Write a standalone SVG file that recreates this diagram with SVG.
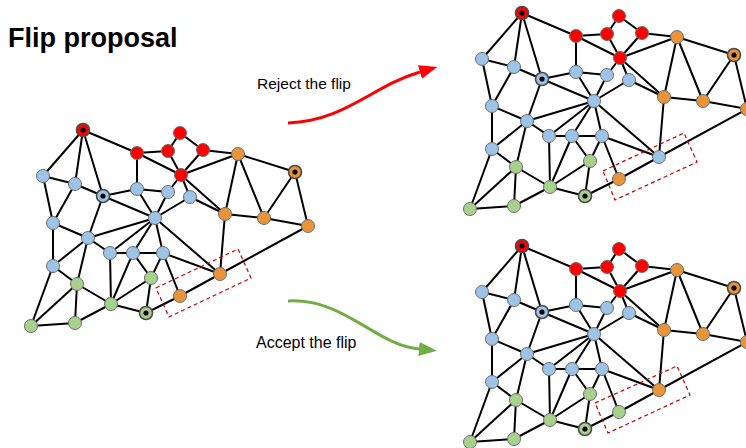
<svg xmlns="http://www.w3.org/2000/svg" xmlns:xlink="http://www.w3.org/1999/xlink" width="746" height="448" viewBox="0 0 746 448">
<style>
.e{stroke:#000;stroke-width:2;fill:none}
circle{stroke:#6e6e6e;stroke-width:1}
.r{fill:#FF0000}.b{fill:#9DC3E6}.g{fill:#A9D18E}.o{fill:#E9943A}
.d{stroke:#4a4a4a;stroke-width:1.6}
.c{fill:#000;stroke:none}
.box{fill:none;stroke:#C00000;stroke-width:1.2;stroke-dasharray:4 3}
text{font-family:"Liberation Sans",Arial,sans-serif;fill:#000}
</style>
<defs>
<marker id="ahr" markerUnits="userSpaceOnUse" markerWidth="20" markerHeight="16" refX="0" refY="7" orient="auto"><path d="M0,0 L18,7 L0,14 z" fill="#FF0000"/></marker>
<marker id="ahg" markerUnits="userSpaceOnUse" markerWidth="20" markerHeight="16" refX="0" refY="7" orient="auto"><path d="M0,0 L18,7 L0,14 z" fill="#70AD47"/></marker>
</defs>
<text x="8" y="47" font-size="27" font-weight="bold">Flip proposal</text>
<g id="labels">
<text x="257" y="89" font-size="15.5">Reject the flip</text>
<text x="256" y="348" font-size="16">Accept the flip</text>
</g>
<g id="arrows">
<path d="M288,123 C345,121 372,86 420,72" stroke="#FF0000" stroke-width="3" fill="none" marker-end="url(#ahr)"/>
<path d="M288,301 C345,298 375,345 419,349" stroke="#70AD47" stroke-width="3" fill="none" marker-end="url(#ahg)"/>
</g>

<g id="graph-a">
<g id="a-connectors">
<line class="e" x1="83" y1="130" x2="43" y2="176"/><line class="e" x1="83" y1="130" x2="75" y2="184"/><line class="e" x1="83" y1="130" x2="103" y2="196"/><line class="e" x1="83" y1="130" x2="137" y2="153"/>
<line class="e" x1="137" y1="153" x2="168" y2="151"/><line class="e" x1="137" y1="153" x2="181" y2="175"/><line class="e" x1="137" y1="153" x2="137" y2="189"/>
<line class="e" x1="168" y1="151" x2="180" y2="133"/><line class="e" x1="168" y1="151" x2="181" y2="175"/>
<line class="e" x1="180" y1="133" x2="203" y2="150"/>
<line class="e" x1="203" y1="150" x2="181" y2="175"/><line class="e" x1="203" y1="150" x2="238" y2="154"/>
<line class="e" x1="181" y1="175" x2="238" y2="154"/><line class="e" x1="181" y1="175" x2="168" y2="192"/><line class="e" x1="181" y1="175" x2="190" y2="197"/><line class="e" x1="181" y1="175" x2="225" y2="214"/>
<line class="e" x1="43" y1="176" x2="75" y2="184"/><line class="e" x1="43" y1="176" x2="53" y2="223"/>
<line class="e" x1="75" y1="184" x2="103" y2="196"/><line class="e" x1="75" y1="184" x2="53" y2="223"/>
<line class="e" x1="103" y1="196" x2="137" y2="189"/><line class="e" x1="103" y1="196" x2="155" y2="218"/><line class="e" x1="103" y1="196" x2="88" y2="238"/>
<line class="e" x1="137" y1="189" x2="168" y2="192"/><line class="e" x1="137" y1="189" x2="155" y2="218"/>
<line class="e" x1="168" y1="192" x2="155" y2="218"/>
<line class="e" x1="190" y1="197" x2="155" y2="218"/><line class="e" x1="190" y1="197" x2="225" y2="214"/>
<line class="e" x1="53" y1="223" x2="88" y2="238"/><line class="e" x1="53" y1="223" x2="53" y2="266"/>
<line class="e" x1="88" y1="238" x2="155" y2="218"/><line class="e" x1="88" y1="238" x2="110" y2="253"/><line class="e" x1="88" y1="238" x2="53" y2="266"/><line class="e" x1="88" y1="238" x2="77" y2="284"/>
<line class="e" x1="110" y1="253" x2="133" y2="253"/><line class="e" x1="110" y1="253" x2="155" y2="218"/><line class="e" x1="110" y1="253" x2="111" y2="304"/>
<line class="e" x1="133" y1="253" x2="163" y2="253"/><line class="e" x1="133" y1="253" x2="155" y2="218"/><line class="e" x1="133" y1="253" x2="111" y2="304"/><line class="e" x1="133" y1="253" x2="151" y2="278"/>
<line class="e" x1="163" y1="253" x2="155" y2="218"/><line class="e" x1="163" y1="253" x2="151" y2="278"/><line class="e" x1="163" y1="253" x2="180" y2="296"/><line class="e" x1="163" y1="253" x2="220" y2="274"/>
<line class="e" x1="155" y1="218" x2="220" y2="274"/>
<line class="e" x1="53" y1="266" x2="77" y2="284"/><line class="e" x1="53" y1="266" x2="31" y2="326"/>
<line class="e" x1="77" y1="284" x2="111" y2="304"/><line class="e" x1="77" y1="284" x2="31" y2="326"/><line class="e" x1="77" y1="284" x2="75" y2="323"/>
<line class="e" x1="31" y1="326" x2="75" y2="323"/><line class="e" x1="75" y1="323" x2="111" y2="304"/>
<line class="e" x1="111" y1="304" x2="151" y2="278"/><line class="e" x1="111" y1="304" x2="146" y2="313"/>
<line class="e" x1="151" y1="278" x2="146" y2="313"/><line class="e" x1="146" y1="313" x2="180" y2="296"/>
<line class="e" x1="180" y1="296" x2="220" y2="274"/><line class="e" x1="220" y1="274" x2="225" y2="214"/><line class="e" x1="220" y1="274" x2="308" y2="226"/>
<line class="e" x1="238" y1="154" x2="225" y2="214"/><line class="e" x1="238" y1="154" x2="264" y2="218"/><line class="e" x1="238" y1="154" x2="295" y2="172"/>
<line class="e" x1="295" y1="172" x2="264" y2="218"/><line class="e" x1="295" y1="172" x2="308" y2="226"/>
<line class="e" x1="225" y1="214" x2="264" y2="218"/><line class="e" x1="264" y1="218" x2="308" y2="226"/>
</g>
<polygon class="box" points="156,288 238,249 251,278 169,317"/>
<g id="a-R0"><circle class="r d" cx="83" cy="130" r="6.5"/><circle class="c" cx="83" cy="130" r="2.6"/></g>
<g id="a-R1"><circle class="r" cx="137" cy="153" r="6.5"/></g>
<g id="a-R2"><circle class="r" cx="168" cy="151" r="6.5"/></g>
<g id="a-R3"><circle class="r" cx="180" cy="133" r="6.5"/></g>
<g id="a-R4"><circle class="r" cx="203" cy="150" r="6.5"/></g>
<g id="a-R5"><circle class="r" cx="181" cy="175" r="6.5"/></g>
<g id="a-B1"><circle class="b" cx="43" cy="176" r="6.5"/></g>
<g id="a-B2"><circle class="b" cx="75" cy="184" r="6.5"/></g>
<g id="a-B3"><circle class="b d" cx="103" cy="196" r="6.5"/><circle class="c" cx="103" cy="196" r="2.6"/></g>
<g id="a-B4"><circle class="b" cx="137" cy="189" r="6.5"/></g>
<g id="a-B5"><circle class="b" cx="168" cy="192" r="6.5"/></g>
<g id="a-B6"><circle class="b" cx="190" cy="197" r="6.5"/></g>
<g id="a-H"><circle class="b" cx="155" cy="218" r="6.5"/></g>
<g id="a-B7"><circle class="b" cx="53" cy="223" r="6.5"/></g>
<g id="a-B8"><circle class="b" cx="88" cy="238" r="6.5"/></g>
<g id="a-B9"><circle class="b" cx="110" cy="253" r="6.5"/></g>
<g id="a-B10"><circle class="b" cx="133" cy="253" r="6.5"/></g>
<g id="a-B11"><circle class="b" cx="163" cy="253" r="6.5"/></g>
<g id="a-B12"><circle class="b" cx="53" cy="266" r="6.5"/></g>
<g id="a-G1"><circle class="g" cx="77" cy="284" r="6.5"/></g>
<g id="a-G2"><circle class="g" cx="151" cy="278" r="6.5"/></g>
<g id="a-G3"><circle class="g" cx="111" cy="304" r="6.5"/></g>
<g id="a-G4"><circle class="g d" cx="146" cy="313" r="6.5"/><circle class="c" cx="146" cy="313" r="2.6"/></g>
<g id="a-G5"><circle class="g" cx="31" cy="326" r="6.5"/></g>
<g id="a-G6"><circle class="g" cx="75" cy="323" r="6.5"/></g>
<g id="a-O1"><circle class="o" cx="238" cy="154" r="6.5"/></g>
<g id="a-O2"><circle class="o d" cx="295" cy="172" r="6.5"/><circle class="c" cx="295" cy="172" r="2.6"/></g>
<g id="a-O3"><circle class="o" cx="225" cy="214" r="6.5"/></g>
<g id="a-O4"><circle class="o" cx="264" cy="218" r="6.5"/></g>
<g id="a-O5"><circle class="o" cx="308" cy="226" r="6.5"/></g>
<g id="a-O6"><circle class="o" cx="180" cy="296" r="6.5"/></g>
<g id="a-O7"><circle class="o" cx="220" cy="274" r="6.5"/></g>
</g>

<g id="graph-reject" transform="translate(439,-117)">
<g id="b-connectors">
<line class="e" x1="83" y1="130" x2="43" y2="176"/><line class="e" x1="83" y1="130" x2="75" y2="184"/><line class="e" x1="83" y1="130" x2="103" y2="196"/><line class="e" x1="83" y1="130" x2="137" y2="153"/>
<line class="e" x1="137" y1="153" x2="168" y2="151"/><line class="e" x1="137" y1="153" x2="181" y2="175"/><line class="e" x1="137" y1="153" x2="137" y2="189"/>
<line class="e" x1="168" y1="151" x2="180" y2="133"/><line class="e" x1="168" y1="151" x2="181" y2="175"/>
<line class="e" x1="180" y1="133" x2="203" y2="150"/>
<line class="e" x1="203" y1="150" x2="181" y2="175"/><line class="e" x1="203" y1="150" x2="238" y2="154"/>
<line class="e" x1="181" y1="175" x2="238" y2="154"/><line class="e" x1="181" y1="175" x2="168" y2="192"/><line class="e" x1="181" y1="175" x2="190" y2="197"/><line class="e" x1="181" y1="175" x2="225" y2="214"/>
<line class="e" x1="43" y1="176" x2="75" y2="184"/><line class="e" x1="43" y1="176" x2="53" y2="223"/>
<line class="e" x1="75" y1="184" x2="103" y2="196"/><line class="e" x1="75" y1="184" x2="53" y2="223"/>
<line class="e" x1="103" y1="196" x2="137" y2="189"/><line class="e" x1="103" y1="196" x2="155" y2="218"/><line class="e" x1="103" y1="196" x2="88" y2="238"/>
<line class="e" x1="137" y1="189" x2="168" y2="192"/><line class="e" x1="137" y1="189" x2="155" y2="218"/>
<line class="e" x1="168" y1="192" x2="155" y2="218"/>
<line class="e" x1="190" y1="197" x2="155" y2="218"/><line class="e" x1="190" y1="197" x2="225" y2="214"/>
<line class="e" x1="53" y1="223" x2="88" y2="238"/><line class="e" x1="53" y1="223" x2="53" y2="266"/>
<line class="e" x1="88" y1="238" x2="155" y2="218"/><line class="e" x1="88" y1="238" x2="110" y2="253"/><line class="e" x1="88" y1="238" x2="53" y2="266"/><line class="e" x1="88" y1="238" x2="77" y2="284"/>
<line class="e" x1="110" y1="253" x2="133" y2="253"/><line class="e" x1="110" y1="253" x2="155" y2="218"/><line class="e" x1="110" y1="253" x2="111" y2="304"/>
<line class="e" x1="133" y1="253" x2="163" y2="253"/><line class="e" x1="133" y1="253" x2="155" y2="218"/><line class="e" x1="133" y1="253" x2="111" y2="304"/><line class="e" x1="133" y1="253" x2="151" y2="278"/>
<line class="e" x1="163" y1="253" x2="155" y2="218"/><line class="e" x1="163" y1="253" x2="151" y2="278"/><line class="e" x1="163" y1="253" x2="180" y2="296"/><line class="e" x1="163" y1="253" x2="220" y2="274"/>
<line class="e" x1="155" y1="218" x2="220" y2="274"/>
<line class="e" x1="53" y1="266" x2="77" y2="284"/><line class="e" x1="53" y1="266" x2="31" y2="326"/>
<line class="e" x1="77" y1="284" x2="111" y2="304"/><line class="e" x1="77" y1="284" x2="31" y2="326"/><line class="e" x1="77" y1="284" x2="75" y2="323"/>
<line class="e" x1="31" y1="326" x2="75" y2="323"/><line class="e" x1="75" y1="323" x2="111" y2="304"/>
<line class="e" x1="111" y1="304" x2="151" y2="278"/><line class="e" x1="111" y1="304" x2="146" y2="313"/>
<line class="e" x1="151" y1="278" x2="146" y2="313"/><line class="e" x1="146" y1="313" x2="180" y2="296"/>
<line class="e" x1="180" y1="296" x2="220" y2="274"/><line class="e" x1="220" y1="274" x2="225" y2="214"/><line class="e" x1="220" y1="274" x2="308" y2="226"/>
<line class="e" x1="238" y1="154" x2="225" y2="214"/><line class="e" x1="238" y1="154" x2="264" y2="218"/><line class="e" x1="238" y1="154" x2="295" y2="172"/>
<line class="e" x1="295" y1="172" x2="264" y2="218"/><line class="e" x1="295" y1="172" x2="308" y2="226"/>
<line class="e" x1="225" y1="214" x2="264" y2="218"/><line class="e" x1="264" y1="218" x2="308" y2="226"/>
</g>
<polygon class="box" points="164,288 245,250 258,279 176,317"/>
<g id="b-R0"><circle class="r d" cx="83" cy="130" r="6.5"/><circle class="c" cx="83" cy="130" r="2.6"/></g>
<g id="b-R1"><circle class="r" cx="137" cy="153" r="6.5"/></g>
<g id="b-R2"><circle class="r" cx="168" cy="151" r="6.5"/></g>
<g id="b-R3"><circle class="r" cx="180" cy="133" r="6.5"/></g>
<g id="b-R4"><circle class="r" cx="203" cy="150" r="6.5"/></g>
<g id="b-R5"><circle class="r" cx="181" cy="175" r="6.5"/></g>
<g id="b-B1"><circle class="b" cx="43" cy="176" r="6.5"/></g>
<g id="b-B2"><circle class="b" cx="75" cy="184" r="6.5"/></g>
<g id="b-B3"><circle class="b d" cx="103" cy="196" r="6.5"/><circle class="c" cx="103" cy="196" r="2.6"/></g>
<g id="b-B4"><circle class="b" cx="137" cy="189" r="6.5"/></g>
<g id="b-B5"><circle class="b" cx="168" cy="192" r="6.5"/></g>
<g id="b-B6"><circle class="b" cx="190" cy="197" r="6.5"/></g>
<g id="b-H"><circle class="b" cx="155" cy="218" r="6.5"/></g>
<g id="b-B7"><circle class="b" cx="53" cy="223" r="6.5"/></g>
<g id="b-B8"><circle class="b" cx="88" cy="238" r="6.5"/></g>
<g id="b-B9"><circle class="b" cx="110" cy="253" r="6.5"/></g>
<g id="b-B10"><circle class="b" cx="133" cy="253" r="6.5"/></g>
<g id="b-B11"><circle class="b" cx="163" cy="253" r="6.5"/></g>
<g id="b-B12"><circle class="b" cx="53" cy="266" r="6.5"/></g>
<g id="b-G1"><circle class="g" cx="77" cy="284" r="6.5"/></g>
<g id="b-G2"><circle class="g" cx="151" cy="278" r="6.5"/></g>
<g id="b-G3"><circle class="g" cx="111" cy="304" r="6.5"/></g>
<g id="b-G4"><circle class="g d" cx="146" cy="313" r="6.5"/><circle class="c" cx="146" cy="313" r="2.6"/></g>
<g id="b-G5"><circle class="g" cx="31" cy="326" r="6.5"/></g>
<g id="b-G6"><circle class="g" cx="75" cy="323" r="6.5"/></g>
<g id="b-O1"><circle class="o" cx="238" cy="154" r="6.5"/></g>
<g id="b-O2"><circle class="o d" cx="295" cy="172" r="6.5"/><circle class="c" cx="295" cy="172" r="2.6"/></g>
<g id="b-O3"><circle class="o" cx="225" cy="214" r="6.5"/></g>
<g id="b-O4"><circle class="o" cx="264" cy="218" r="6.5"/></g>
<g id="b-O5"><circle class="o" cx="308" cy="226" r="6.5"/></g>
<g id="b-O6"><circle class="o" cx="180" cy="296" r="6.5"/></g>
<g id="b-O7"><circle class="b" cx="220" cy="274" r="6.5"/></g>
</g>

<g id="graph-accept" transform="translate(439,116)">
<g id="c-connectors">
<line class="e" x1="83" y1="130" x2="43" y2="176"/><line class="e" x1="83" y1="130" x2="75" y2="184"/><line class="e" x1="83" y1="130" x2="103" y2="196"/><line class="e" x1="83" y1="130" x2="137" y2="153"/>
<line class="e" x1="137" y1="153" x2="168" y2="151"/><line class="e" x1="137" y1="153" x2="181" y2="175"/><line class="e" x1="137" y1="153" x2="137" y2="189"/>
<line class="e" x1="168" y1="151" x2="180" y2="133"/><line class="e" x1="168" y1="151" x2="181" y2="175"/>
<line class="e" x1="180" y1="133" x2="203" y2="150"/>
<line class="e" x1="203" y1="150" x2="181" y2="175"/><line class="e" x1="203" y1="150" x2="238" y2="154"/>
<line class="e" x1="181" y1="175" x2="238" y2="154"/><line class="e" x1="181" y1="175" x2="168" y2="192"/><line class="e" x1="181" y1="175" x2="190" y2="197"/><line class="e" x1="181" y1="175" x2="225" y2="214"/>
<line class="e" x1="43" y1="176" x2="75" y2="184"/><line class="e" x1="43" y1="176" x2="53" y2="223"/>
<line class="e" x1="75" y1="184" x2="103" y2="196"/><line class="e" x1="75" y1="184" x2="53" y2="223"/>
<line class="e" x1="103" y1="196" x2="137" y2="189"/><line class="e" x1="103" y1="196" x2="155" y2="218"/><line class="e" x1="103" y1="196" x2="88" y2="238"/>
<line class="e" x1="137" y1="189" x2="168" y2="192"/><line class="e" x1="137" y1="189" x2="155" y2="218"/>
<line class="e" x1="168" y1="192" x2="155" y2="218"/>
<line class="e" x1="190" y1="197" x2="155" y2="218"/><line class="e" x1="190" y1="197" x2="225" y2="214"/>
<line class="e" x1="53" y1="223" x2="88" y2="238"/><line class="e" x1="53" y1="223" x2="53" y2="266"/>
<line class="e" x1="88" y1="238" x2="155" y2="218"/><line class="e" x1="88" y1="238" x2="110" y2="253"/><line class="e" x1="88" y1="238" x2="53" y2="266"/><line class="e" x1="88" y1="238" x2="77" y2="284"/>
<line class="e" x1="110" y1="253" x2="133" y2="253"/><line class="e" x1="110" y1="253" x2="155" y2="218"/><line class="e" x1="110" y1="253" x2="111" y2="304"/>
<line class="e" x1="133" y1="253" x2="163" y2="253"/><line class="e" x1="133" y1="253" x2="155" y2="218"/><line class="e" x1="133" y1="253" x2="111" y2="304"/><line class="e" x1="133" y1="253" x2="151" y2="278"/>
<line class="e" x1="163" y1="253" x2="155" y2="218"/><line class="e" x1="163" y1="253" x2="151" y2="278"/><line class="e" x1="163" y1="253" x2="180" y2="296"/><line class="e" x1="163" y1="253" x2="220" y2="274"/>
<line class="e" x1="155" y1="218" x2="220" y2="274"/>
<line class="e" x1="53" y1="266" x2="77" y2="284"/><line class="e" x1="53" y1="266" x2="31" y2="326"/>
<line class="e" x1="77" y1="284" x2="111" y2="304"/><line class="e" x1="77" y1="284" x2="31" y2="326"/><line class="e" x1="77" y1="284" x2="75" y2="323"/>
<line class="e" x1="31" y1="326" x2="75" y2="323"/><line class="e" x1="75" y1="323" x2="111" y2="304"/>
<line class="e" x1="111" y1="304" x2="151" y2="278"/><line class="e" x1="111" y1="304" x2="146" y2="313"/>
<line class="e" x1="151" y1="278" x2="146" y2="313"/><line class="e" x1="146" y1="313" x2="180" y2="296"/>
<line class="e" x1="180" y1="296" x2="220" y2="274"/><line class="e" x1="220" y1="274" x2="225" y2="214"/><line class="e" x1="220" y1="274" x2="308" y2="226"/>
<line class="e" x1="238" y1="154" x2="225" y2="214"/><line class="e" x1="238" y1="154" x2="264" y2="218"/><line class="e" x1="238" y1="154" x2="295" y2="172"/>
<line class="e" x1="295" y1="172" x2="264" y2="218"/><line class="e" x1="295" y1="172" x2="308" y2="226"/>
<line class="e" x1="225" y1="214" x2="264" y2="218"/><line class="e" x1="264" y1="218" x2="308" y2="226"/>
</g>
<polygon class="box" points="156,287 238,250 251,279 169,317"/>
<g id="c-R0"><circle class="r d" cx="83" cy="130" r="6.5"/><circle class="c" cx="83" cy="130" r="2.6"/></g>
<g id="c-R1"><circle class="r" cx="137" cy="153" r="6.5"/></g>
<g id="c-R2"><circle class="r" cx="168" cy="151" r="6.5"/></g>
<g id="c-R3"><circle class="r" cx="180" cy="133" r="6.5"/></g>
<g id="c-R4"><circle class="r" cx="203" cy="150" r="6.5"/></g>
<g id="c-R5"><circle class="r" cx="181" cy="175" r="6.5"/></g>
<g id="c-B1"><circle class="b" cx="43" cy="176" r="6.5"/></g>
<g id="c-B2"><circle class="b" cx="75" cy="184" r="6.5"/></g>
<g id="c-B3"><circle class="b d" cx="103" cy="196" r="6.5"/><circle class="c" cx="103" cy="196" r="2.6"/></g>
<g id="c-B4"><circle class="b" cx="137" cy="189" r="6.5"/></g>
<g id="c-B5"><circle class="b" cx="168" cy="192" r="6.5"/></g>
<g id="c-B6"><circle class="b" cx="190" cy="197" r="6.5"/></g>
<g id="c-H"><circle class="b" cx="155" cy="218" r="6.5"/></g>
<g id="c-B7"><circle class="b" cx="53" cy="223" r="6.5"/></g>
<g id="c-B8"><circle class="b" cx="88" cy="238" r="6.5"/></g>
<g id="c-B9"><circle class="b" cx="110" cy="253" r="6.5"/></g>
<g id="c-B10"><circle class="b" cx="133" cy="253" r="6.5"/></g>
<g id="c-B11"><circle class="b" cx="163" cy="253" r="6.5"/></g>
<g id="c-B12"><circle class="b" cx="53" cy="266" r="6.5"/></g>
<g id="c-G1"><circle class="g" cx="77" cy="284" r="6.5"/></g>
<g id="c-G2"><circle class="g" cx="151" cy="278" r="6.5"/></g>
<g id="c-G3"><circle class="g" cx="111" cy="304" r="6.5"/></g>
<g id="c-G4"><circle class="g d" cx="146" cy="313" r="6.5"/><circle class="c" cx="146" cy="313" r="2.6"/></g>
<g id="c-G5"><circle class="g" cx="31" cy="326" r="6.5"/></g>
<g id="c-G6"><circle class="g" cx="75" cy="323" r="6.5"/></g>
<g id="c-O1"><circle class="o" cx="238" cy="154" r="6.5"/></g>
<g id="c-O2"><circle class="o d" cx="295" cy="172" r="6.5"/><circle class="c" cx="295" cy="172" r="2.6"/></g>
<g id="c-O3"><circle class="o" cx="225" cy="214" r="6.5"/></g>
<g id="c-O4"><circle class="o" cx="264" cy="218" r="6.5"/></g>
<g id="c-O5"><circle class="o" cx="308" cy="226" r="6.5"/></g>
<g id="c-O6"><circle class="g" cx="180" cy="296" r="6.5"/></g>
<g id="c-O7"><circle class="o" cx="220" cy="274" r="6.5"/></g>
</g>
</svg>
